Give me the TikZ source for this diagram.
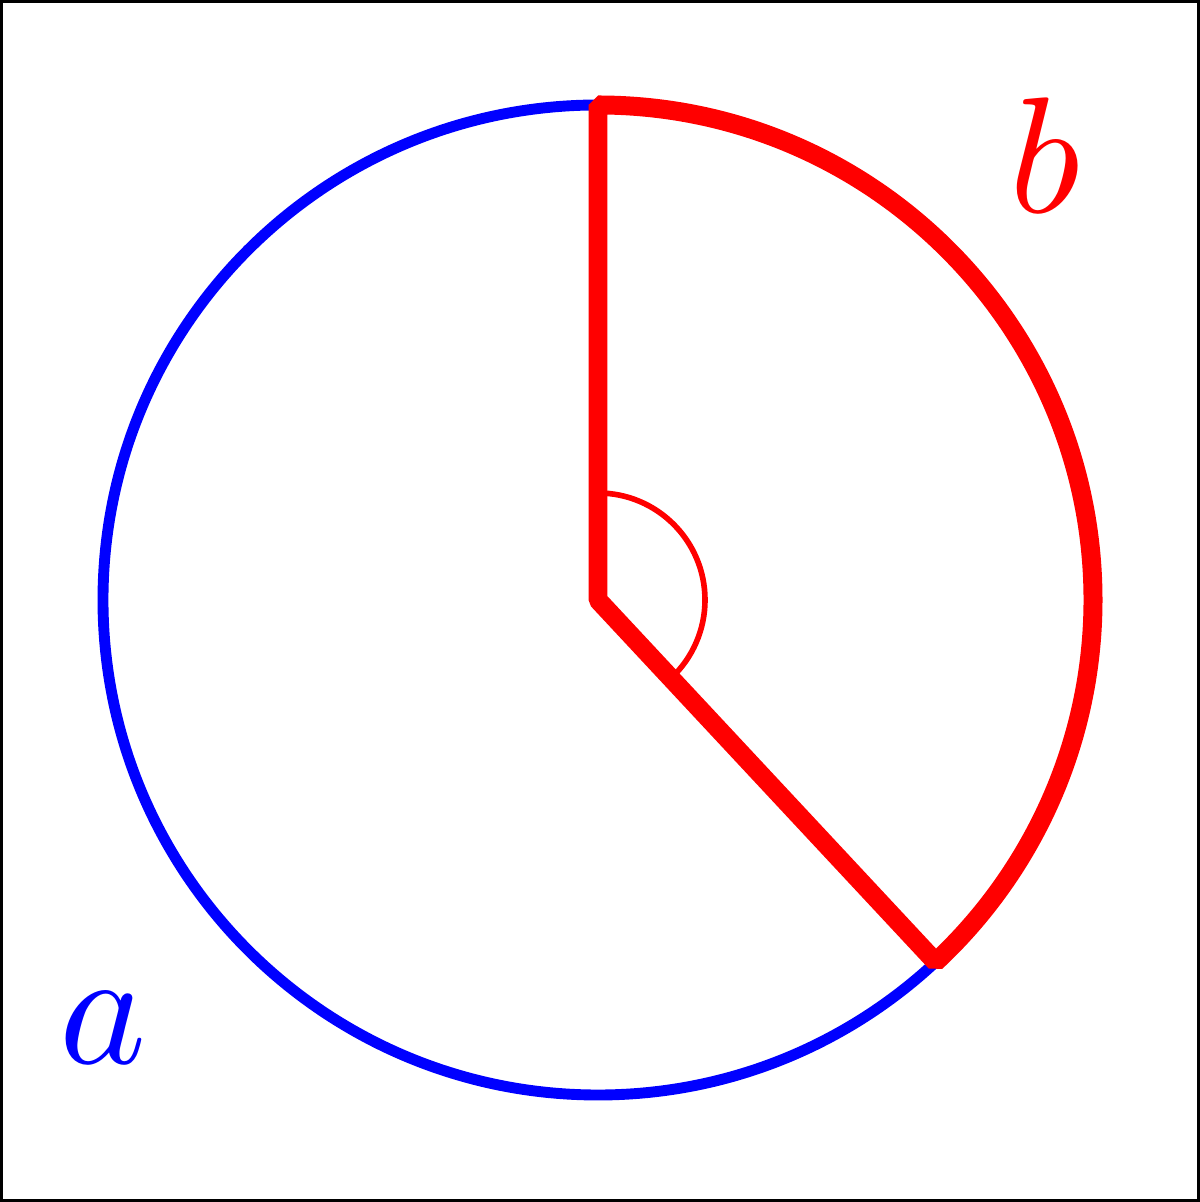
\documentclass[tikz,border=0pt]{standalone}
\usetikzlibrary{calc}
\tikzstyle{frame}=[draw=black, line width=0.85pt]
\tikzstyle{whole}=[draw=blue, line width=3.1pt]
\tikzstyle{sector}=[draw=red, line width=5.4pt, line join=bevel]
\tikzstyle{angmark}=[draw=red, line width=1.6pt]
\tikzstyle{annot} = [align=center, inner sep=0pt, scale=4.7]
\begin{document}
\begin{tikzpicture}
	\coordinate (O) at (5.98,6.02);
	\draw[frame] (0.015,0.015) rectangle (11.985,12.005);

	\draw[whole] (O) circle (4.95);
	\draw[angmark] ($(O)+(90:1.07)$) arc (90:-47:1.07);
	\draw[sector] (O) -- ($(O)+(90:4.95)$) arc (90:-47:4.95) -- cycle;

	\node[annot, text=red] (b) at (10.45,10.47) {$b$};
	\node[annot, text=blue] (a) at (1.03,1.74) {$a$};
\end{tikzpicture}
\end{document}
